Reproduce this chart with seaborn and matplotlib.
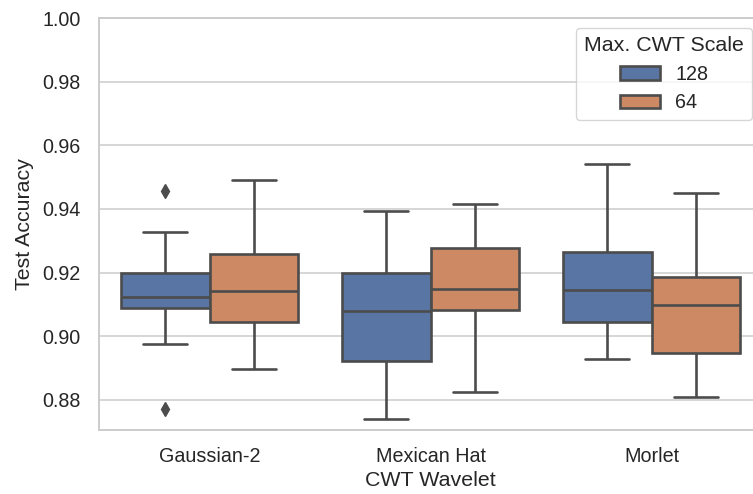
import numpy as np
import pandas as pd
import matplotlib
matplotlib.use("Agg")
import matplotlib.pyplot as plt
import seaborn as sns

# ---- data ----
wavelets = ["Gaussian-2", "Mexican Hat", "Morlet"]
scales = ["128", "64"]

gauss_128 = [0.8770, 0.8974, 0.9089, 0.9105, 0.9123, 0.9160, 0.9197, 0.9328, 0.9455]
gauss_64 = [0.8896, 0.8980, 0.9043, 0.9100, 0.9142, 0.9200, 0.9258, 0.9380, 0.9491]
mexhat_128 = [0.8739, 0.8850, 0.8923, 0.9000, 0.9078, 0.9150, 0.9197, 0.9300, 0.9393]
mexhat_64 = [0.8826, 0.8990, 0.9082, 0.9120, 0.9149, 0.9210, 0.9277, 0.9350, 0.9414]
morlet_128 = [0.8927, 0.8990, 0.9044, 0.9100, 0.9145, 0.9200, 0.9265, 0.9400, 0.9541]
morlet_64 = [0.8810, 0.8880, 0.8948, 0.9020, 0.9098, 0.9150, 0.9185, 0.9320, 0.9450]

y_ticks = [0.88, 0.90, 0.92, 0.94, 0.96, 0.98, 1.00]

groups = {
    ("Gaussian-2", "128"): gauss_128,
    ("Gaussian-2", "64"): gauss_64,
    ("Mexican Hat", "128"): mexhat_128,
    ("Mexican Hat", "64"): mexhat_64,
    ("Morlet", "128"): morlet_128,
    ("Morlet", "64"): morlet_64,
}
rows = []
for (w, s), vals in groups.items():
    for v in vals:
        rows.append({"CWT Wavelet": w, "Max. CWT Scale": s, "Test Accuracy": v})
df = pd.DataFrame(rows)

# ---- style ----
sns.set_theme(style="whitegrid")
plt.rcParams["font.family"] = ["Liberation Sans", "DejaVu Sans"]
plt.rcParams["axes.edgecolor"] = "#cccccc"
plt.rcParams["grid.color"] = "#cccccc"

fig = plt.figure(figsize=(7.53, 4.94), dpi=100)
ax = fig.add_axes([99 / 753, 64 / 494, 663 / 753, 412 / 494])

line_gray = "#4c4c4c"
sns.boxplot(
    data=df, x="CWT Wavelet", y="Test Accuracy", hue="Max. CWT Scale",
    order=wavelets, hue_order=scales, palette="deep", saturation=0.75,
    width=0.8, linewidth=1.9, linecolor=line_gray,
    flierprops=dict(marker="d", markersize=7, markerfacecolor=line_gray,
                    markeredgecolor=line_gray),
    ax=ax,
)

ax.set_ylim(0.8705, 1.0)
ax.set_yticks(y_ticks)
ax.set_yticklabels([f"{t:.2f}" for t in y_ticks])
ax.set_xlim(-0.5, 2.5)
ax.tick_params(axis="both", labelsize=14.2, length=0, colors="#262626")
ax.tick_params(axis="x", pad=12.5)
ax.tick_params(axis="y", pad=13)
ax.set_xlabel("CWT Wavelet", fontsize=15.4, color="#262626", labelpad=3)
ax.set_ylabel("Test Accuracy", fontsize=15.4, color="#262626", labelpad=6)
for sp in ax.spines.values():
    sp.set_linewidth(1.4)
    sp.set_color("#cccccc")
ax.grid(True, axis="y", linewidth=1.1, color="#cccccc")
ax.grid(False, axis="x")

handles, labels = ax.get_legend_handles_labels()
leg = ax.legend(handles, labels, title="Max. CWT Scale", loc="upper right",
                fontsize=14.2, title_fontsize=15.4, frameon=True)
leg.get_frame().set_edgecolor("#cccccc")

fig.savefig("out.png", dpi=100)
